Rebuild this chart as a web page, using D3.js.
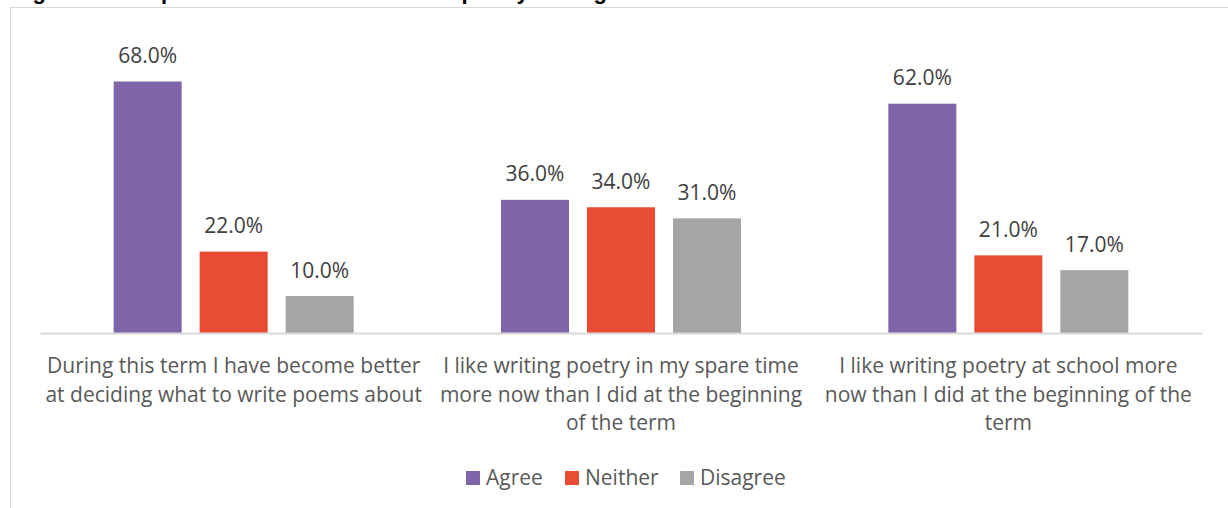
<!DOCTYPE html>
<html>
<head>
<meta charset="utf-8">
<script src="https://cdn.jsdelivr.net/npm/d3@7"></script>
<style>
  html, body { margin: 0; padding: 0; background: #fff; }
  svg { display: block; }
</style>
</head>
<body>
<svg id="chart" width="1228" height="508"></svg>
<script>
const title = "Figure 5: Comparison of attitudes towards poetry writing";
const categories = [
  ["During this term I have become better", "at deciding what to write poems about"],
  ["I like writing poetry in my spare time", "more now than I did at the beginning", "of the term"],
  ["I like writing poetry at school more", "now than I did at the beginning of the", "term"]
];
const seriesNames = ["Agree", "Neither", "Disagree"];
const agree = [0.68, 0.36, 0.62];
const neither = [0.22, 0.34, 0.21];
const disagree = [0.10, 0.31, 0.17];
const colors = ["#8064A9", "#E84C33", "#A5A5A5"];

const seriesValues = [agree, neither, disagree];
const FONT = "'Open Sans', 'Noto Sans', sans-serif";
const TEXT = "#595959";

const svg = d3.select("#chart");

// outer frame
svg.append("rect")
  .attr("x", 10.5).attr("y", 7.5)
  .attr("width", 1240).attr("height", 520)
  .attr("fill", "none").attr("stroke", "#d9d9d9").attr("stroke-width", 1);

// title (mostly cut off above the frame, as in the reference)
svg.append("text")
  .attr("x", 13).attr("y", -1)
  .attr("font-family", "'Liberation Sans', Arial, sans-serif")
  .attr("font-weight", "bold").attr("font-size", 22)
  .attr("fill", "#000")
  .text(title);

const plot = { left: 40, right: 1202, base: 333 };

const x0 = d3.scaleBand()
  .domain(d3.range(categories.length))
  .range([plot.left, plot.right])
  .paddingInner(0).paddingOuter(0);

const x1 = d3.scaleBand()
  .domain(seriesNames)
  .range([0, x0.bandwidth()])
  .paddingInner(0.2093)
  .paddingOuter(0.8565);

const y = d3.scaleLinear()
  .domain([0, 0.68])
  .range([plot.base, 81.5]);

const pct = d3.format(".1%");

const groups = svg.selectAll("g.cat")
  .data(categories.map((c, i) => i))
  .join("g")
  .attr("class", "cat")
  .attr("transform", i => `translate(${x0(i)},0)`);

groups.selectAll("rect")
  .data(i => seriesNames.map((s, k) => ({ s, k, v: seriesValues[k][i] })))
  .join("rect")
  .attr("x", d => x1(d.s))
  .attr("width", x1.bandwidth())
  .attr("y", d => y(d.v))
  .attr("height", d => plot.base - y(d.v))
  .attr("fill", d => colors[d.k]);

groups.selectAll("text.val")
  .data(i => seriesNames.map((s, k) => ({ s, k, v: seriesValues[k][i] })))
  .join("text")
  .attr("class", "val")
  .attr("x", d => x1(d.s) + x1.bandwidth() / 2)
  .attr("y", d => y(d.v) - 18.5)
  .attr("text-anchor", "middle")
  .attr("font-family", FONT).attr("font-size", 21)
  .attr("fill", "#404040")
  .text(d => pct(d.v));

// baseline axis
const xAxis = d3.axisBottom(x0).tickSize(0).tickFormat("");
const axisG = svg.append("g")
  .attr("transform", `translate(0,${plot.base})`)
  .call(xAxis);
axisG.select(".domain").attr("stroke", "#d9d9d9").attr("stroke-width", 2);

// category labels
groups.selectAll("text.cat")
  .data(i => categories[i])
  .join("text")
  .attr("class", "cat")
  .attr("x", x0.bandwidth() / 2)
  .attr("y", (d, j) => 373 + j * 28.5)
  .attr("text-anchor", "middle")
  .attr("font-family", FONT).attr("font-size", 21)
  .attr("fill", TEXT)
  .text(d => d);

// legend
const legendX = [466, 565, 680];
const legend = svg.append("g");
seriesNames.forEach((s, k) => {
  legend.append("rect")
    .attr("x", legendX[k]).attr("y", 471)
    .attr("width", 14).attr("height", 14)
    .attr("fill", colors[k]);
  legend.append("text")
    .attr("x", legendX[k] + 20).attr("y", 485)
    .attr("font-family", FONT).attr("font-size", 21)
    .attr("fill", TEXT)
    .text(s);
});
</script>
</body>
</html>
